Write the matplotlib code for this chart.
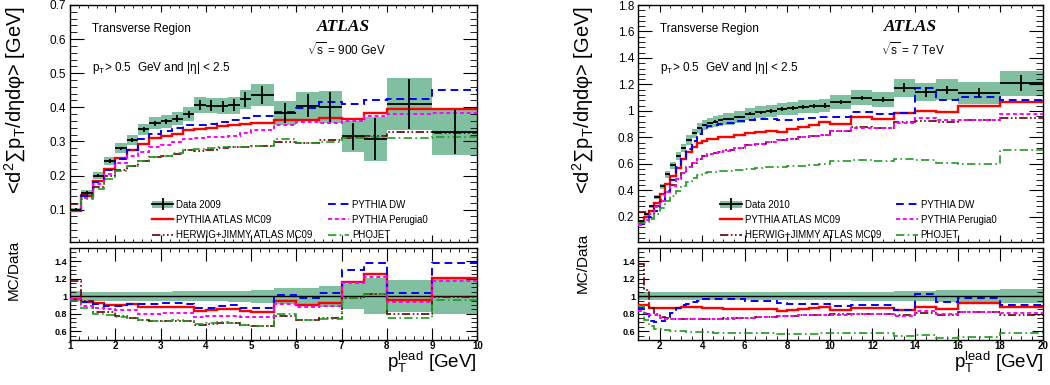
import numpy as np
import matplotlib.pyplot as plt
from matplotlib.patches import Patch
from matplotlib.lines import Line2D
from matplotlib.ticker import MultipleLocator, FuncFormatter

plt.rcParams['font.family'] = ['Liberation Sans', 'DejaVu Sans']
plt.rcParams['mathtext.fontset'] = 'custom'
plt.rcParams['mathtext.rm'] = 'Liberation Sans'
plt.rcParams['mathtext.it'] = 'Liberation Sans:italic'
plt.rcParams['mathtext.bf'] = 'Liberation Sans:bold'
plt.rcParams['axes.linewidth'] = 1.0

# ---- sqrt(s) = 900 GeV ----
edges_900 = [1, 1.25, 1.5, 1.75, 2, 2.25, 2.5, 2.75, 3, 3.25, 3.5, 3.75, 4, 4.25,
             4.5, 4.75, 5, 5.5, 6, 6.5, 7, 7.5, 8, 9, 10]
data_900 = [0.100, 0.150, 0.200, 0.242, 0.280, 0.303, 0.335, 0.353, 0.359, 0.367,
            0.380, 0.406, 0.405, 0.403, 0.406, 0.423, 0.436, 0.383, 0.405, 0.401,
            0.315, 0.307, 0.410, 0.327]
stat_900 = [0.004, 0.004, 0.005, 0.005, 0.005, 0.006, 0.006, 0.007, 0.008, 0.009,
            0.010, 0.014, 0.015, 0.016, 0.018, 0.022, 0.027, 0.030, 0.034, 0.044,
            0.040, 0.062, 0.074, 0.065]
tot_900 = [0.006, 0.008, 0.010, 0.012, 0.014, 0.015, 0.017, 0.018, 0.019, 0.020,
           0.021, 0.023, 0.023, 0.024, 0.025, 0.027, 0.033, 0.036, 0.040, 0.048,
           0.045, 0.064, 0.076, 0.067]
# MC / data
mc09_900 = [0.966, 0.935, 0.92, 0.90, 0.90, 0.91, 0.875, 0.875, 0.88, 0.88, 0.875, 0.83,
            0.84, 0.855, 0.855, 0.83, 0.815, 0.945, 0.897, 0.92, 1.16, 1.25, 0.96, 1.21]
herwig_900 = [1.175, 0.945, 0.825, 0.825, 0.775, 0.755, 0.725, 0.72, 0.72, 0.72, 0.72,
              0.67, 0.68, 0.695, 0.695, 0.67, 0.66, 0.775, 0.73, 0.755, 0.985, 1.03,
              0.80, 0.99]
dw_900 = [0.955, 0.93, 0.91, 0.89, 0.89, 0.91, 0.915, 0.915, 0.92, 0.925, 0.915, 0.86,
          0.87, 0.885, 0.895, 0.87, 0.86, 1.01, 0.985, 1.035, 1.30, 1.375, 1.035, 1.375]
perugia_900 = [0.965, 0.89, 0.87, 0.85, 0.845, 0.845, 0.80, 0.80, 0.805, 0.81, 0.81,
               0.76, 0.775, 0.775, 0.775, 0.765, 0.765, 0.91, 0.88, 0.885, 1.145, 1.22,
               0.93, 1.175]
phojet_900 = [0.945, 0.87, 0.80, 0.785, 0.76, 0.755, 0.725, 0.72, 0.72, 0.725, 0.72,
              0.685, 0.695, 0.705, 0.695, 0.67, 0.66, 0.80, 0.73, 0.745, 0.98, 1.02,
              0.755, 0.955]

# ---- sqrt(s) = 7 TeV ----
edges_7 = [1, 1.25, 1.5, 1.75, 2, 2.25, 2.5, 2.75, 3, 3.25, 3.5, 3.75, 4, 4.25, 4.5,
           4.75, 5, 5.5, 6, 6.5, 7, 7.5, 8, 8.5, 9, 9.5, 10, 11, 12, 13, 14, 15, 16,
           18, 20]
data_7 = [0.17, 0.22, 0.28, 0.35, 0.43, 0.52, 0.59, 0.66, 0.72, 0.78, 0.83, 0.87,
          0.895, 0.91, 0.92, 0.93, 0.94, 0.955, 0.98, 0.99, 1.0, 1.015, 1.02,
          1.03, 1.035, 1.04, 1.07, 1.10, 1.085, 1.175, 1.14, 1.16, 1.135, 1.21]
stat_7 = [0.003, 0.003, 0.003, 0.004, 0.004, 0.004, 0.005, 0.005, 0.005, 0.006,
          0.006, 0.007, 0.007, 0.008, 0.008, 0.009, 0.008, 0.009, 0.010, 0.011,
          0.012, 0.013, 0.014, 0.015, 0.016, 0.018, 0.014, 0.016, 0.019, 0.035,
          0.037, 0.030, 0.035, 0.060]
tot_7 = [0.008, 0.010, 0.013, 0.016, 0.020, 0.024, 0.027, 0.030, 0.033, 0.035, 0.037,
         0.038, 0.039, 0.040, 0.041, 0.042, 0.043, 0.044, 0.045, 0.046, 0.047, 0.048,
         0.048, 0.049, 0.050, 0.051, 0.052, 0.056, 0.058, 0.068, 0.068, 0.080, 0.085,
         0.095]
mc09_7 = [0.905, 0.905, 0.87, 0.87, 0.865, 0.865, 0.865, 0.865, 0.88, 0.88, 0.875,
          0.875, 0.865, 0.865, 0.86, 0.86, 0.855, 0.855, 0.85, 0.85, 0.85, 0.83, 0.845,
          0.85, 0.86, 0.88, 0.84, 0.87, 0.865, 0.84, 0.875, 0.857, 0.917, 0.88]
herwig_7 = [1.37, 1.07, 0.87, 0.80, 0.76, 0.75, 0.745, 0.74, 0.735, 0.735, 0.735, 0.735,
            0.74, 0.74, 0.74, 0.745, 0.75, 0.75, 0.755, 0.76, 0.765, 0.77, 0.775, 0.78,
            0.785, 0.79, 0.795, 0.80, 0.80, 0.78, 0.81, 0.79, 0.82, 0.78]
dw_7 = [0.86, 0.80, 0.72, 0.70, 0.72, 0.76, 0.81, 0.87, 0.895, 0.91, 0.93, 0.95, 0.965,
        0.97, 0.97, 0.97, 0.97, 0.97, 0.95, 0.945, 0.94, 0.92, 0.915, 0.915, 0.915,
        0.915, 0.89, 0.90, 0.90, 0.84, 1.03, 0.93, 0.975, 0.895]
perugia_7 = [0.83, 0.81, 0.79, 0.78, 0.75, 0.745, 0.74, 0.735, 0.735, 0.735, 0.735,
             0.735, 0.74, 0.74, 0.74, 0.745, 0.745, 0.75, 0.755, 0.76, 0.765, 0.77,
             0.775, 0.78, 0.785, 0.79, 0.79, 0.795, 0.80, 0.775, 0.83, 0.80, 0.82, 0.81]
phojet_7 = [0.885, 0.73, 0.655, 0.625, 0.62, 0.61, 0.605, 0.60, 0.60, 0.595, 0.595,
            0.59, 0.59, 0.59, 0.585, 0.585, 0.58, 0.58, 0.575, 0.575, 0.575, 0.57, 0.57,
            0.57, 0.57, 0.575, 0.58, 0.575, 0.575, 0.54, 0.555, 0.52, 0.53, 0.58]

mc_names = ['PYTHIA ATLAS MC09', 'HERWIG+JIMMY ATLAS MC09', 'PYTHIA DW',
            'PYTHIA Perugia0', 'PHOJET']
band_color = '#80c0a0'
mc_styles = [
    dict(color='#ff0000', ls='-', lw=1.7),
    dict(color='#660000', ls=(0, (5, 1.5, 1, 1.5, 1, 1.5)), lw=1.2),
    dict(color='#0000ff', ls=(0, (4, 2.5)), lw=1.4),
    dict(color='#ff00ff', ls=(0, (2, 1.5)), lw=1.4),
    dict(color='#1f9a1f', ls=(0, (5, 2, 1, 2)), lw=1.2),
]

W, H = 1050, 385
fig = plt.figure(figsize=(W / 100, H / 100), dpi=100)


def px_box(x0, x1, y0, y1):
    return [x0 / W, 1 - y1 / H, (x1 - x0) / W, (y1 - y0) / H]


fmt = FuncFormatter(lambda v, p: '%g' % round(v, 3))


def panel(x0, x1, edges, data, stat, tot, ratios, year, energy, xmaj, xmin, ymaj, ymin,
          ytop, ybot):
    ax = fig.add_axes(px_box(x0, x1, 5, 242))
    rx = fig.add_axes(px_box(x0, x1, 248, 340))
    edges = np.array(edges)
    data = np.array(data)
    stat = np.array(stat)
    tot = np.array(tot)
    centers = 0.5 * (edges[1:] + edges[:-1])
    widths = np.diff(edges)

    # data total uncertainty band
    ax.bar(centers, 2 * tot, bottom=data - tot, width=widths, color=band_color,
           linewidth=0, zorder=1)
    rel = tot / data
    rx.bar(centers, 2 * rel, bottom=1 - rel, width=widths, color=band_color,
           linewidth=0, zorder=1)
    rx.axhline(1, color='k', lw=1.0, zorder=2)

    # generator predictions
    for r, st in zip(ratios, mc_styles):
        r = np.array(r)
        ax.stairs(r * data, edges, baseline=None, zorder=3, **st)
        rx.stairs(r, edges, baseline=None, zorder=3, **st)

    ax.errorbar(centers, data, xerr=widths / 2, yerr=stat, fmt='none', ecolor='k',
                elinewidth=1.3, capsize=0, zorder=5)

    ax.set_xlim(edges[0], edges[-1])
    rx.set_xlim(edges[0], edges[-1])
    ax.set_ylim(ybot, ytop)
    rx.set_ylim(0.5, 1.55)

    for a in (ax, rx):
        a.xaxis.set_major_locator(MultipleLocator(xmaj))
        a.xaxis.set_minor_locator(MultipleLocator(xmin))
        a.tick_params(which='both', direction='in', top=True, right=True)
        a.yaxis.set_major_formatter(fmt)
        a.xaxis.set_major_formatter(fmt)
    ax.yaxis.set_major_locator(MultipleLocator(ymaj))
    ax.yaxis.set_minor_locator(MultipleLocator(ymin))
    rx.yaxis.set_major_locator(MultipleLocator(0.2))
    rx.yaxis.set_minor_locator(MultipleLocator(0.05))
    ax.tick_params(axis='x', which='major', length=5, labelbottom=False)
    ax.tick_params(axis='x', which='minor', length=2.5)
    ax.tick_params(axis='y', which='major', length=10, labelsize=8.5, pad=3)
    ax.tick_params(axis='y', which='minor', length=5)
    rx.tick_params(axis='x', which='major', length=9, labelsize=7, pad=0.8)
    rx.tick_params(axis='x', which='minor', length=3)
    rx.tick_params(axis='y', which='major', length=8, labelsize=6.5, pad=2)
    rx.tick_params(axis='y', which='minor', length=4)
    for lab in rx.get_xticklabels() + rx.get_yticklabels():
        lab.set_fontweight('bold')

    # labels
    def fx(px):
        return (px - x0) / (x1 - x0)

    def fy(py):
        return 1 - (py - 5) / 237

    ax.text(fx(x0 + 22), fy(29), 'Transverse Region', fontsize=8.5, va='center',
            transform=ax.transAxes)
    ax.text(fx(x0 + 22), fy(68), r'p$_{\mathrm{T}}$> 0.5  GeV and |η| < 2.5',
            fontsize=8.5, va='center', transform=ax.transAxes)
    ax.text(0.672, fy(27), 'ATLAS', fontsize=12.5, family='Liberation Serif',
            fontweight='bold', style='italic', ha='center', va='center',
            transform=ax.transAxes)
    ax.text(0.68, fy(50), r'$\sqrt{\mathrm{s}}$ = ' + energy, fontsize=8.5,
            ha='center', va='center', transform=ax.transAxes)

    # legend
    handles = [(Patch(facecolor=band_color, edgecolor='none'),
                Line2D([], [], color='k', lw=1.3, marker='|', markersize=9,
                       markeredgewidth=1.3))]
    handles += [Line2D([], [], **st) for st in mc_styles]
    labels = ['Data ' + year] + mc_names
    order1 = [0, 1, 2]
    order2 = [3, 4, 5]
    common = dict(frameon=False, fontsize=7, handlelength=2.2, handletextpad=0.3,
                  labelspacing=0.55, borderpad=0, borderaxespad=0, loc='upper left',
                  numpoints=1)
    leg1 = ax.legend([handles[i] for i in order1], [labels[i] for i in order1],
                     bbox_to_anchor=(fx(x0 + 82), fy(199.5)), **common)
    ax.add_artist(leg1)
    ax.legend([handles[i] for i in order2], [labels[i] for i in order2],
              bbox_to_anchor=(fx(x0 + 258), fy(199.5)), **common)
    return ax, rx


ax1, rx1 = panel(70, 477.3, edges_900, data_900, stat_900, tot_900,
                 [mc09_900, herwig_900, dw_900, perugia_900, phojet_900],
                 '2009', '900 GeV', 1, 0.2, 0.1, 0.02, 0.7, 0.005)
ax2, rx2 = panel(638.3, 1042.7, edges_7, data_7, stat_7, tot_7,
                 [mc09_7, herwig_7, dw_7, perugia_7, phojet_7],
                 '2010', '7 TeV', 2, 0.5, 0.2, 0.04, 1.8, 0.01)

ylab = r'<d$^{2}$∑p$_{\mathrm{T}}$/dηdφ> [GeV]'
fig.text(15 / W, 1 - 6 / H, ylab, rotation=90, fontsize=14.5, ha='center', va='top')
fig.text(583 / W, 1 - 6 / H, ylab, rotation=90, fontsize=14.5, ha='center', va='top')
fig.text(14 / W, 1 - 240 / H, 'MC/Data', rotation=90, fontsize=11, ha='center',
         va='top')
fig.text(583 / W, 1 - 233 / H, 'MC/Data', rotation=90, fontsize=11, ha='center',
         va='top')
xlab = r'p$_{\mathrm{T}}^{\mathrm{lead}}$ [GeV]'
fig.text(477 / W, 1 - 368 / H, xlab, fontsize=13.5, ha='right', va='baseline')
fig.text(1044 / W, 1 - 368 / H, xlab, fontsize=13.5, ha='right', va='baseline')

fig.savefig('out.png', dpi=100)
